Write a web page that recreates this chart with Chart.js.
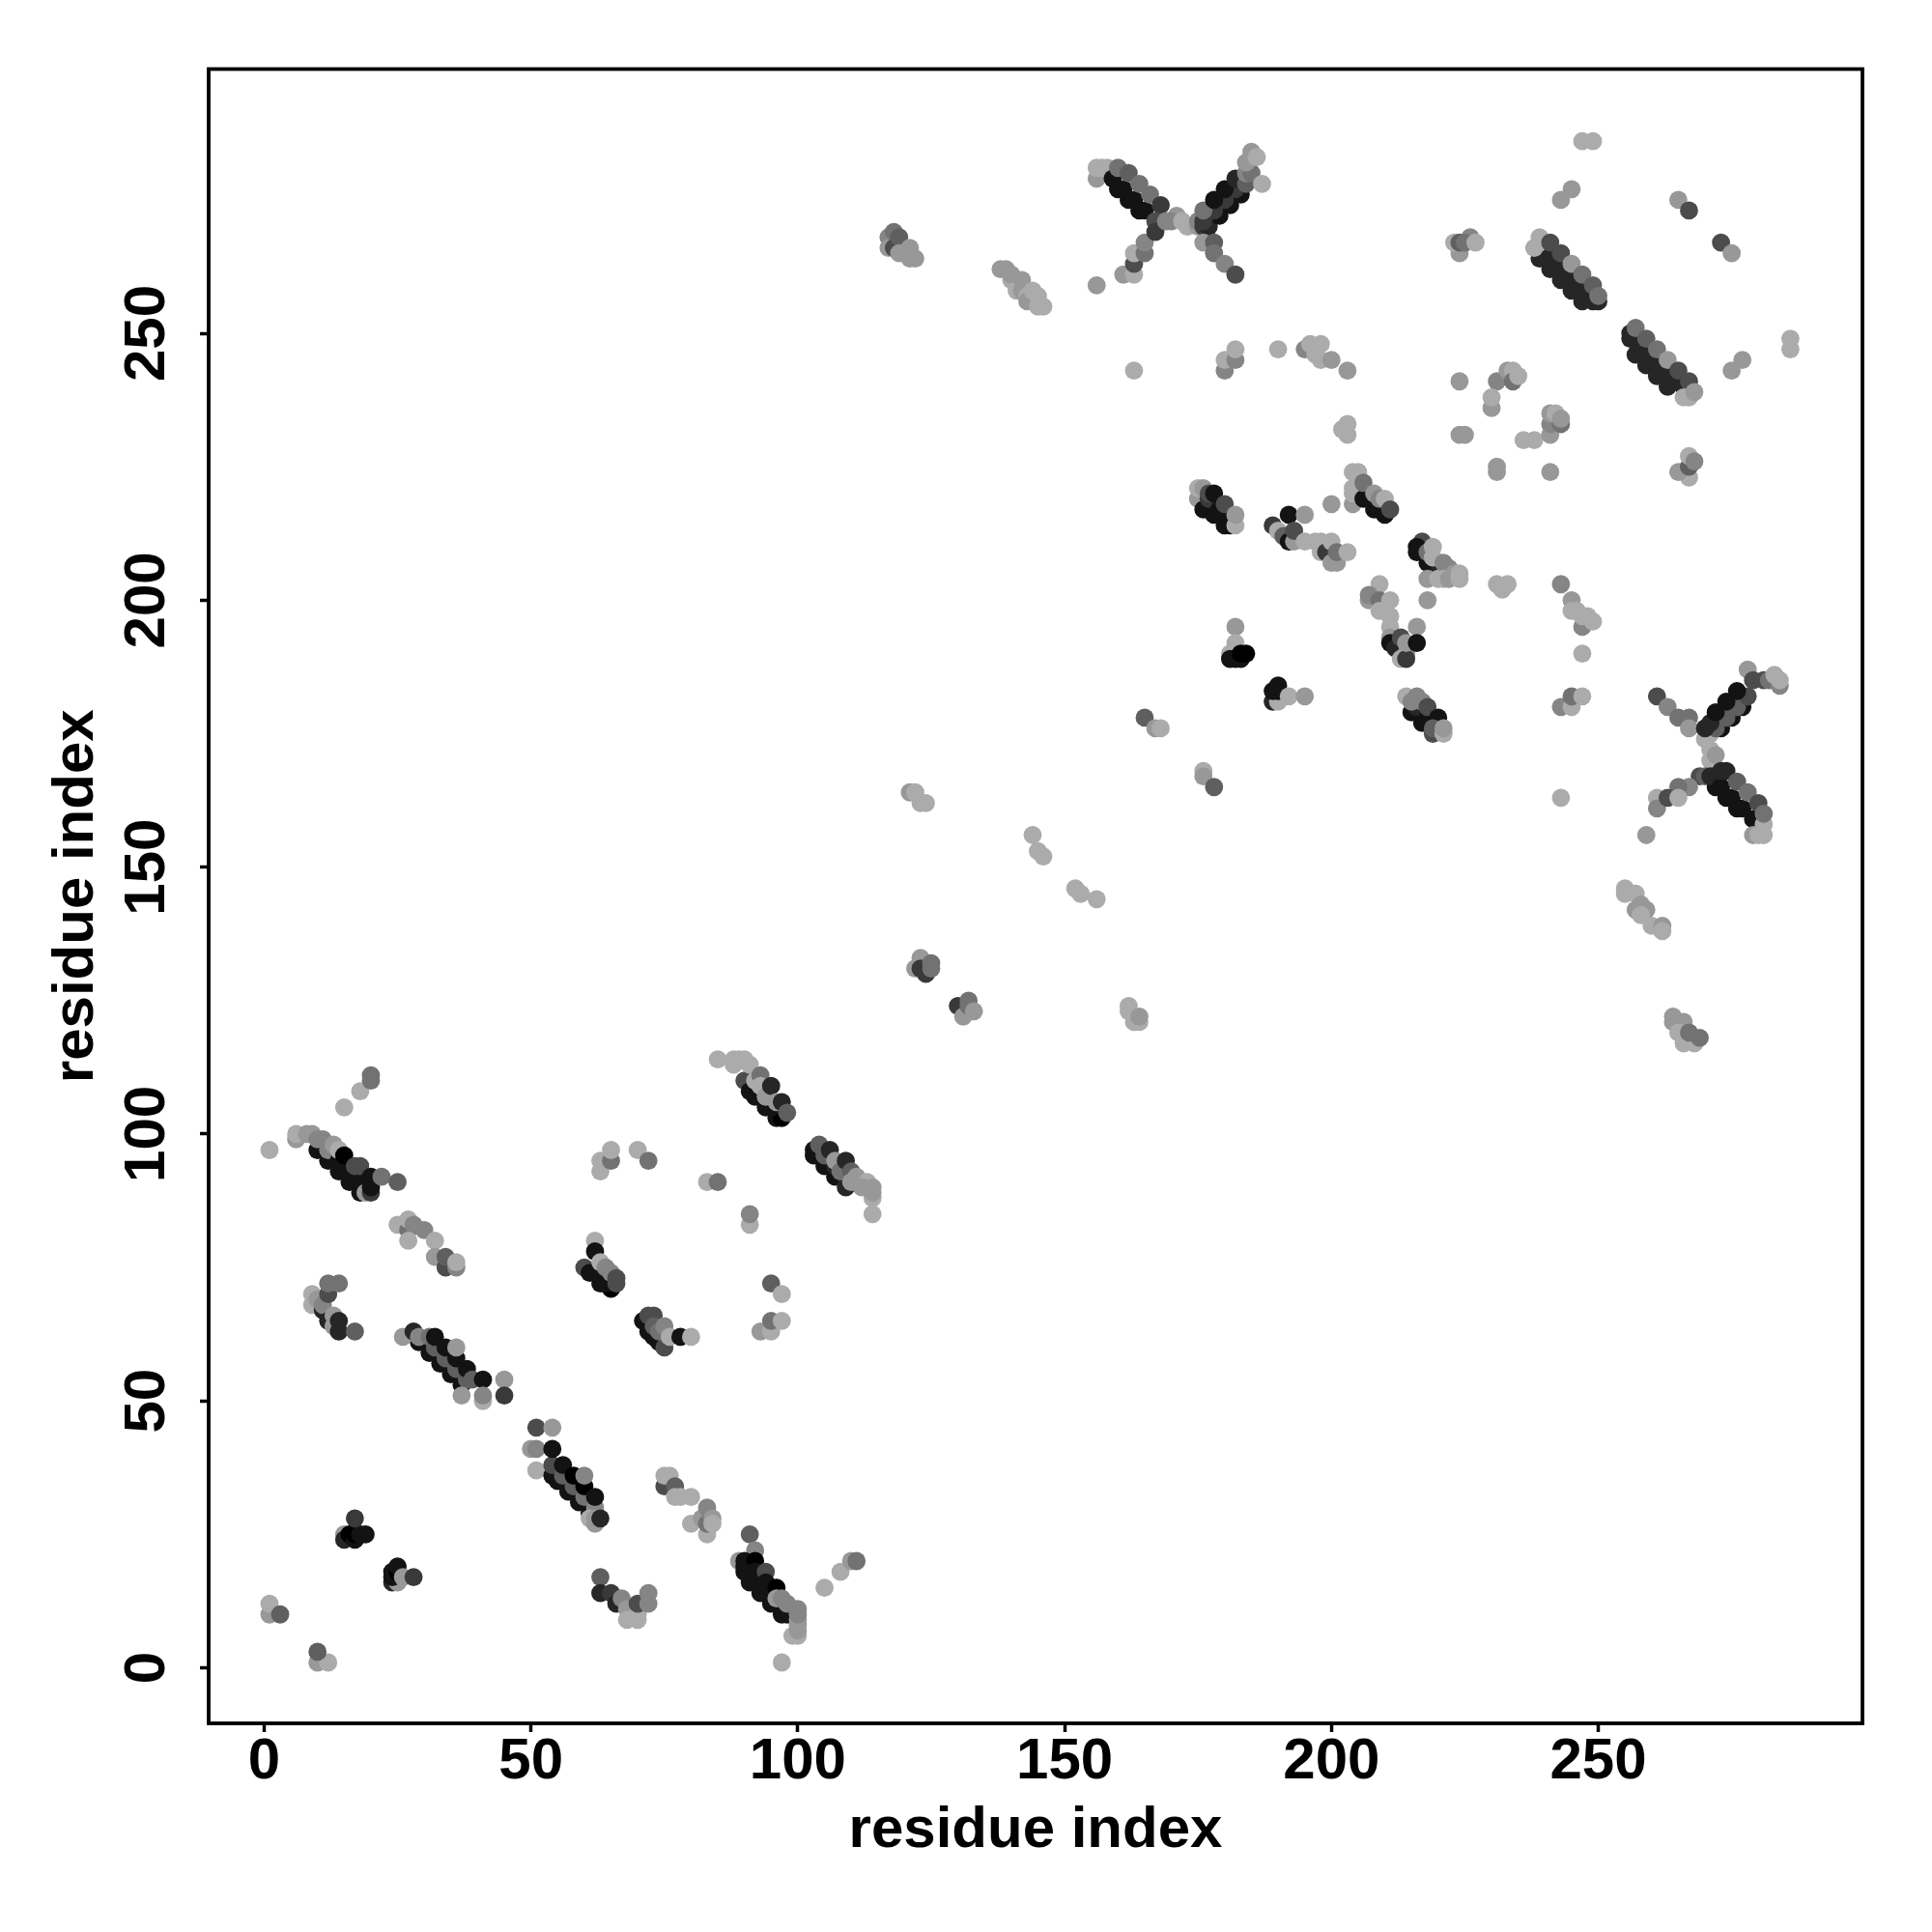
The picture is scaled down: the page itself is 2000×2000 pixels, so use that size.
<!DOCTYPE html>
<html>
<head>
<meta charset="utf-8">
<title>residue contacts</title>
<script src="https://cdn.jsdelivr.net/npm/chart.js@4"></script>
<style>
  html, body { margin: 0; background: #fff; }
  canvas { display: block; }
</style>
</head>
<body>
<canvas id="contactMap" width="2000" height="2000"></canvas>
<script>
const tickValues = [0, 50, 100, 150, 200, 250];
const axisLabel = 'residue index';

// one line per cluster, the three lists line up
const residueX = [
  1,1,3,10,12,10,
  15,15,16,17,17,18,19,17,
  24,25,24,24,25,25,26,28,
  9,9,10,11,11,12,13,13,14,14,17,12,12,14,
  29,31,33,35,37,26,28,29,31,32,34,36,38,32,34,36,38,36,39,41,45,45,37,41,41,
  51,54,50,51,51,54,55,57,59,61,54,56,58,60,62,54,56,58,60,60,61,62,62,62,63,
  63,63,65,66,67,68,68,70,70,70,72,72,
  91,92,89,90,90,92,91,93,95,97,90,92,94,96,98,92,94,94,96,96,97,98,99,100,100,100,100,100,100,97,105,108,110,111,
  71,72,73,74,75,72,73,73,74,75,76,78,80,
  95,97,93,95,95,97,
  75,75,76,77,77,78,80,83,80,82,83,83,84,84,
  10,12,14,16,18,6,6,8,9,10,11,12,14,16,18,13,14,15,17,18,19,20,20,20,22,25,1,15,18,20,20,
  25,27,27,28,27,30,32,32,34,34,36,36,
  62,62,60,61,63,65,62,64,63,64,65,66,66,
  85,88,89,90,88,90,92,94,96,97,91,93,95,91,92,93,93,94,95,96,97,98,
  103,103,105,107,109,105,107,109,104,106,107,108,109,110,110,111,113,112,114,114,114,114,
  63,63,65,65,70,72,83,85,91,91,
  122,123,123,124,125,125,
  130,131,132,132,133,
  162,162,163,164,164,
  121,122,123,124,
  144,145,146,152,153,156,
  117,117,118,118,119,119,120,121,121,122,
  138,139,140,140,141,142,142,143,143,144,145,145,146,
  156,163,161,163,163,163,165,165,
  156,156,157,158,160,162,164,159,161,163,165,160,162,164,166,168,167,167,169,171,170,172,173,
  175,175,176,177,179,181,183,176,178,180,182,176,178,180,182,184,184,185,184,185,186,187,176,178,178,180,182,
  180,180,182,182,190,195,196,197,198,198,200,203,203,202,203,
  247,249,243,245,265,267,273,275,224,223,224,226,225,227,
  239,241,243,245,247,249,240,242,244,246,248,250,238,239,239,241,243,245,247,249,250,
  256,257,259,261,263,258,260,262,264,266,256,257,259,261,263,265,267,266,267,268,
  286,286,275,277,224,231,233,234,234,235,230,230,224,225,236,238,231,231,241,
  241,241,241,242,243,243,
  267,265,267,267,268,
  175,175,176,176,178,180,181,177,179,181,177,178,180,182,182,
  189,190,191,192,193,192,195,193,195,197,198,198,199,200,200,201,201,203,200,
  204,204,204,204,205,205,206,208,210,207,209,206,208,209,210,211,
  217,216,216,218,220,218,219,219,218,220,221,222,221,222,223,224,224,
  231,233,232,218,243,245,245,246,247,247,248,249,247,
  243,245,245,247,243,
  209,207,207,209,209,211,211,211,211,211,212,213,214,213,214,214,216,216,
  182,182,181,181,182,183,183,184,
  189,190,189,190,190,192,195,
  214,216,215,217,219,216,218,215,217,218,220,219,221,221,
  165,167,168,176,176,178,
  261,263,265,267,267,278,270,271,273,275,277,272,274,276,278,270,271,272,274,276,279,281,282,284,283,284,
  271,271,272,269,270,272,274,276,271,273,275,277,279,273,274,276,278,280,281,279,280,281,281,267,265,261,261,263,265,259,
  255,255,257,258,257,259,258,260,262,262,
  264,264,266,265,266,268,267,269
];
const residueY = [
  10,12,10,1,1,3,
  25,24,25,24,25,25,25,28,
  16,16,17,18,18,19,17,17,
  68,70,69,67,68,65,64,66,63,65,63,70,72,72,
  61,59,57,55,53,62,63,62,62,60,58,56,54,62,60,58,56,60,54,54,54,51,51,50,51,
  45,45,41,41,37,36,35,33,31,29,38,36,34,32,30,41,38,36,34,36,28,27,28,32,28,
  17,14,14,12,13,11,9,9,10,12,14,12,
  25,22,20,20,19,20,16,14,12,10,18,16,14,12,10,18,18,16,15,13,13,12,6,6,7,8,9,10,11,1,15,18,20,20,
  65,63,62,61,60,66,66,64,63,64,62,62,62,
  72,70,63,63,65,65,
  34,36,36,34,32,32,32,25,27,28,27,30,28,27,
  97,95,93,91,89,99,100,100,100,99,99,97,95,93,91,98,97,96,94,94,89,89,90,92,92,91,97,105,108,110,111,
  83,82,84,83,80,82,80,77,75,77,75,76,
  80,78,75,74,72,71,74,72,76,75,74,73,72,
  114,114,114,114,113,110,107,105,103,103,108,107,105,113,110,111,109,107,109,106,106,104,
  97,96,94,92,90,96,94,92,98,97,95,93,95,93,91,92,91,90,85,88,89,90,
  93,95,95,97,97,95,91,91,83,85,
  131,133,131,130,131,132,
  124,122,125,124,123,
  124,123,121,121,122,
  164,164,162,162,
  156,153,152,146,145,144,
  268,266,269,266,268,265,265,266,264,264,
  262,262,260,261,258,260,258,257,256,258,257,255,255,
  259,243,261,261,263,265,265,267,
  279,281,281,281,277,275,273,279,277,275,273,281,280,278,276,274,271,269,271,272,271,271,270,
  270,271,270,270,272,274,276,271,273,275,277,273,275,277,279,278,280,280,282,284,283,278,267,267,265,263,261,
  243,245,245,247,247,247,248,246,248,245,245,243,233,232,231,
  286,286,275,277,275,273,267,265,265,267,267,268,267,267,
  264,262,260,258,256,256,266,264,262,260,258,256,266,268,267,267,265,263,261,259,257,
  249,246,244,242,240,248,246,244,242,240,250,251,249,247,245,243,241,238,238,239,
  247,249,243,245,241,241,243,243,241,242,236,238,231,231,230,230,224,225,224,
  231,233,235,235,233,234,
  223,224,225,227,226,
  219,221,221,217,216,214,214,219,217,215,220,220,218,214,216,
  214,213,212,211,211,216,216,213,211,211,211,209,209,211,207,207,209,209,218,
  218,220,221,224,224,222,219,217,216,219,217,222,220,219,219,217,
  211,210,209,207,205,209,210,208,204,204,207,206,204,204,205,204,205,
  203,203,202,200,203,200,198,198,195,197,197,196,190,
  180,180,182,182,163,
  203,200,201,200,198,200,197,195,193,192,191,193,190,189,189,192,195,192,
  195,192,190,189,189,189,190,190,
  181,181,183,183,184,182,182,
  182,182,179,177,175,180,178,181,181,180,178,176,175,176,
  178,176,176,168,167,165,
  182,180,178,178,176,187,174,175,176,178,180,176,178,180,182,176,177,179,181,183,185,185,185,184,186,185,
  172,170,171,167,167,165,163,161,167,165,163,161,159,168,168,166,164,162,158,156,156,156,160,165,165,163,161,163,163,156,
  146,145,145,143,142,142,141,139,139,138,
  122,121,121,119,117,117,119,118
];
// 0 darkest .. 9 lightest, as read from the grey of each dot
const contactBin = [
  8,9,5,8,9,5,
  8,2,0,1,0,1,1,3,
  2,8,1,1,0,1,8,3,
  9,9,8,2,7,2,8,8,2,2,5,4,6,6,
  1,1,1,1,1,8,2,7,6,5,5,5,5,1,1,1,1,8,5,1,8,3,8,9,7,
  4,8,8,7,9,1,1,1,1,1,4,5,5,6,7,1,1,0,0,7,9,8,8,1,2,
  5,2,3,2,7,8,9,9,9,4,7,7,
  5,7,8,1,1,0,1,1,1,1,1,1,1,1,1,1,4,1,0,8,7,7,9,9,8,8,8,7,7,9,9,9,8,6,
  1,1,1,1,4,4,4,5,6,7,9,1,9,
  5,9,8,9,6,9,
  4,9,9,5,9,9,9,9,9,8,6,7,8,9,
  1,1,1,1,1,8,9,8,8,7,7,7,1,1,1,8,9,0,4,4,8,3,1,1,6,5,9,9,9,6,6,
  9,6,9,7,9,7,9,8,4,5,7,9,
  9,1,4,1,1,0,1,1,9,7,7,4,4,
  9,9,9,9,9,4,1,1,1,0,1,1,1,9,9,6,9,8,2,8,2,5,
  1,1,1,1,2,5,2,2,5,2,8,6,2,5,8,8,9,8,9,9,8,8,
  9,9,6,9,9,6,9,6,9,7,
  8,8,3,3,6,6,
  3,8,6,6,8,
  9,9,9,9,8,
  8,9,9,9,
  9,9,9,9,9,9,
  7,8,6,4,5,8,8,8,8,8,
  8,8,9,8,9,8,8,9,8,9,9,9,9,
  8,9,8,9,4,9,6,7,
  8,9,9,9,1,1,1,1,1,1,1,6,5,6,6,3,4,3,7,8,7,9,9,
  8,7,3,2,1,1,1,3,3,3,3,6,1,1,2,5,7,6,8,8,9,9,8,5,6,7,4,
  7,9,7,9,9,7,9,9,9,9,8,8,9,9,9,
  9,9,8,8,8,4,4,8,8,9,5,7,6,9,
  2,2,2,2,2,2,2,2,2,2,2,2,9,9,9,4,4,8,6,5,6,
  2,2,2,2,2,2,2,2,2,2,2,6,5,6,8,4,4,9,9,8,
  9,9,8,8,8,7,8,9,6,9,8,9,8,8,9,9,8,8,8,
  8,7,8,9,6,8,
  9,8,5,9,7,
  8,9,8,1,1,1,1,3,1,1,4,1,4,9,8,
  3,9,5,1,8,1,8,4,9,9,9,9,3,9,8,8,6,9,8,
  8,9,9,9,9,9,1,1,1,1,1,6,8,7,9,4,
  4,1,1,1,2,6,9,9,8,9,7,7,9,8,8,9,9,
  9,9,9,8,7,8,9,9,7,9,9,9,9,
  7,9,6,9,9,
  9,8,7,6,9,9,9,9,8,1,2,4,7,9,3,8,8,1,
  8,9,9,1,1,1,0,0,
  2,9,1,1,1,9,8,
  9,7,1,1,4,2,1,7,7,4,1,5,9,8,
  5,8,9,9,8,5,
  4,7,6,6,8,8,9,9,1,1,1,5,5,5,4,2,2,1,1,1,4,4,6,7,9,9,
  9,9,8,4,5,1,1,1,2,1,1,1,1,2,2,5,6,4,9,8,9,9,6,7,6,9,7,4,9,8,
  9,9,9,8,8,8,9,9,8,9,
  8,8,8,9,9,9,6,6
];

const grey = bin => {
  const v = bin * 19;
  return `rgb(${v},${v},${v})`;
};

// R style closed box round the plot
const boxPlugin = {
  id: 'box',
  afterDatasetsDraw(chart) {
    const { ctx, chartArea: a } = chart;
    ctx.save();
    ctx.strokeStyle = '#000';
    ctx.lineWidth = 3.8;
    ctx.strokeRect(a.left, a.top, a.right - a.left, a.bottom - a.top);
    ctx.restore();
  },
};

const axisFont = { family: '"Liberation Sans"', size: 60, weight: 'bold' };

const axis = extra => ({
  type: 'linear',
  min: -10.4,
  max: 299.5,
  border: { display: false },
  grid: { drawOnChartArea: false, drawTicks: true, tickLength: 9, tickWidth: 3.5, tickColor: '#000' },
  afterBuildTicks: s => { s.ticks = tickValues.map(value => ({ value })); },
  ...extra,
});

new Chart(document.getElementById('contactMap'), {
  type: 'scatter',
  data: {
    datasets: [{
      data: residueX.map((x, i) => ({ x, y: residueY[i] })),
      pointBackgroundColor: contactBin.map(grey),
      pointBorderWidth: 0,
      pointRadius: 9.4,
      pointHoverRadius: 9.4,
    }],
  },
  options: {
    responsive: false,
    animation: false,
    layout: { padding: { top: 71.5, right: 72, left: 0, bottom: 0 } },
    plugins: { legend: { display: false }, tooltip: { enabled: false } },
    scales: {
      x: axis({
        ticks: { color: '#000', font: axisFont, padding: -5, autoSkip: false, maxRotation: 0, callback: v => String(v) },
        title: { display: true, text: axisLabel, color: '#000', font: axisFont, padding: { top: 0, bottom: 69 } },
        afterFit: s => { s.height = 216; },
      }),
      y: axis({
        ticks: { color: '#000', font: axisFont, padding: 3.5, autoSkip: false, minRotation: 90, maxRotation: 90, crossAlign: 'center', callback: v => String(v) },
        title: { display: true, text: axisLabel, color: '#000', font: axisFont, padding: { top: 43, bottom: 0 } },
        afterFit: s => { s.width = 216; },
      }),
    },
  },
  plugins: [boxPlugin],
});
</script>
</body>
</html>
